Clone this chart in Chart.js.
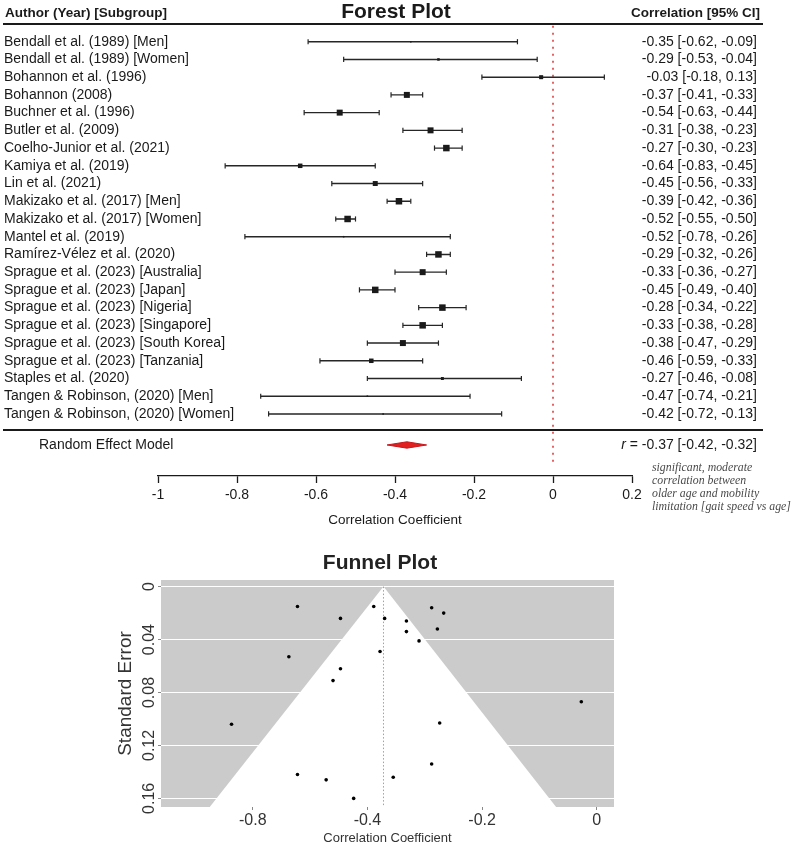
<!DOCTYPE html>
<html>
<head>
<meta charset="utf-8">
<script src="https://cdn.jsdelivr.net/npm/chart.js@4.4.1/dist/chart.umd.min.js"></script>
<style>
  body { margin: 0; background: #fff; }
  canvas { display: block; }
</style>
</head>
<body>
<canvas id="forest" width="794" height="535"></canvas>
<canvas id="funnel" width="794" height="311"></canvas>
<script>
// ---- forest plot data ----
const studies = [
  'Bendall et al. (1989) [Men]',
  'Bendall et al. (1989) [Women]',
  'Bohannon et al. (1996)',
  'Bohannon (2008)',
  'Buchner et al. (1996)',
  'Butler et al. (2009)',
  'Coelho-Junior et al. (2021)',
  'Kamiya et al. (2019)',
  'Lin et al. (2021)',
  'Makizako et al. (2017) [Men]',
  'Makizako et al. (2017) [Women]',
  'Mantel et al. (2019)',
  'Ramírez-Vélez et al. (2020)',
  'Sprague et al. (2023) [Australia]',
  'Sprague et al. (2023) [Japan]',
  'Sprague et al. (2023) [Nigeria]',
  'Sprague et al. (2023) [Singapore]',
  'Sprague et al. (2023) [South Korea]',
  'Sprague et al. (2023) [Tanzania]',
  'Staples et al. (2020)',
  'Tangen & Robinson, (2020) [Men]',
  'Tangen & Robinson, (2020) [Women]'
];
const estimates = [-0.36, -0.29, -0.03, -0.37, -0.54, -0.31, -0.27, -0.64, -0.45, -0.39, -0.52,
                   -0.53, -0.29, -0.33, -0.45, -0.28, -0.33, -0.38, -0.46, -0.28, -0.47, -0.43];
const lower = [-0.62, -0.53, -0.18, -0.41, -0.63, -0.38, -0.30, -0.83, -0.56, -0.42, -0.55,
               -0.78, -0.32, -0.40, -0.49, -0.34, -0.38, -0.47, -0.59, -0.47, -0.74, -0.72];
const upper = [-0.09, -0.04, 0.13, -0.33, -0.44, -0.23, -0.23, -0.45, -0.33, -0.36, -0.50,
               -0.26, -0.26, -0.27, -0.40, -0.22, -0.28, -0.29, -0.33, -0.08, -0.21, -0.13];
const ciLabels = [
  '-0.35 [-0.62, -0.09]', '-0.29 [-0.53, -0.04]', '-0.03 [-0.18, 0.13]', '-0.37 [-0.41, -0.33]',
  '-0.54 [-0.63, -0.44]', '-0.31 [-0.38, -0.23]', '-0.27 [-0.30, -0.23]', '-0.64 [-0.83, -0.45]',
  '-0.45 [-0.56, -0.33]', '-0.39 [-0.42, -0.36]', '-0.52 [-0.55, -0.50]', '-0.52 [-0.78, -0.26]',
  '-0.29 [-0.32, -0.26]', '-0.33 [-0.36, -0.27]', '-0.45 [-0.49, -0.40]', '-0.28 [-0.34, -0.22]',
  '-0.33 [-0.38, -0.28]', '-0.38 [-0.47, -0.29]', '-0.46 [-0.59, -0.33]', '-0.27 [-0.46, -0.08]',
  '-0.47 [-0.74, -0.21]', '-0.42 [-0.72, -0.13]'
];
// study weights (%)
const weights = [0.4, 1.1, 2.8, 6.2, 6.2, 6.2, 7.3, 3.5, 4.3, 7.3, 7.3,
                 0.4, 7.3, 6.2, 7.3, 7.3, 7.3, 6.2, 3.5, 1.5, 0.4, 0.4];
const forestTicks = [-1, -0.8, -0.6, -0.4, -0.2, 0, 0.2];
const pooled = { label: 'Random Effect Model', est: -0.37, lo: -0.42, hi: -0.32 };
const note = ['significant, moderate', 'correlation between', 'older age and mobility', 'limitation [gait speed vs age]'];

// ---- funnel plot data ----
const funnelR = [-0.522, -0.389, -0.288, -0.267, -0.447, -0.370, -0.332, -0.278, -0.332, -0.310, -0.378,
                 -0.537, -0.447, -0.460, -0.637, -0.274, -0.288, -0.522, -0.472, -0.355, -0.424, -0.027];
const funnelSE = [0.015, 0.015, 0.016, 0.020, 0.024, 0.024, 0.026, 0.032, 0.034, 0.041, 0.049,
                  0.053, 0.062, 0.071, 0.104, 0.103, 0.134, 0.142, 0.146, 0.144, 0.160, 0.087];
const funnelTicks = [-0.6, -0.4, -0.2, 0];
const funnelTickLabels = ['-0.8', '-0.4', '-0.2', '0'];
const seTicks = [0, 0.04, 0.08, 0.12, 0.16];
const seMax = 0.1665;
const funnelMean = -0.372;
const funnelEdgeR = [-0.675, funnelMean, -0.071];
const funnelEdgeSE = [seMax, 0, seMax];

const SANS = "'Liberation Sans', Arial, sans-serif";
const INK = '#1a1a1a';
const reRow = 22.75;

const whiskers = [];
studies.forEach((s, i) => {
  whiskers.push({ x: lower[i], y: i }, { x: upper[i], y: i }, { x: null, y: null });
});

const forestDecor = {
  id: 'forestDecor',
  afterDraw(chart) {
    const { ctx, scales } = chart;
    const y = scales.y;
    ctx.save();
    ctx.fillStyle = INK;
    ctx.textBaseline = 'middle';
    ctx.font = `bold 13.5px ${SANS}`;
    ctx.textAlign = 'left';
    ctx.fillText('Author (Year) [Subgroup]', 5, 13);
    ctx.textAlign = 'right';
    ctx.fillText('Correlation [95% CI]', 760, 13);
    ctx.font = `bold 21px ${SANS}`;
    ctx.textAlign = 'center';
    ctx.fillText('Forest Plot', 396, 12);

    ctx.strokeStyle = INK;
    ctx.lineWidth = 2;
    [-1, 21.9].forEach(v => {
      const py = Math.round(y.getPixelForValue(v));
      ctx.beginPath();
      ctx.moveTo(3, py);
      ctx.lineTo(763, py);
      ctx.stroke();
    });

    const ry = y.getPixelForValue(reRow);
    ctx.font = `14px ${SANS}`;
    ctx.textAlign = 'left';
    ctx.fillText(pooled.label, 39, ry);
    const rest = ` = ${pooled.est.toFixed(2)} [${pooled.lo.toFixed(2)}, ${pooled.hi.toFixed(2)}]`;
    ctx.textAlign = 'right';
    ctx.fillText(rest, 757, ry);
    const w = ctx.measureText(rest).width;
    ctx.font = `italic 14px ${SANS}`;
    ctx.fillText('r', 757 - w, ry);

    ctx.font = `italic 11.8px 'Liberation Serif', 'Times New Roman', serif`;
    ctx.fillStyle = '#4a4a4a';
    ctx.textAlign = 'left';
    note.forEach((t, i) => ctx.fillText(t, 652, 468 + i * 13));
    ctx.restore();
  }
};

new Chart(document.getElementById('forest'), {
  type: 'scatter',
  data: {
    datasets: [
      {
        data: estimates.map((e, i) => ({ x: e, y: i })),
        pointStyle: 'rect',
        pointRadius: weights.map(w => Math.max(1.1, 1.7 * Math.sqrt(w))),
        backgroundColor: INK,
        borderColor: INK,
        borderWidth: 0
      },
      {
        data: whiskers,
        showLine: true,
        borderColor: '#262626',
        borderWidth: 1.4,
        pointStyle: 'line',
        pointRotation: 90,
        pointRadius: 2.6,
        pointBorderColor: '#262626',
        pointBorderWidth: 1.2
      },
      {
        data: [{ x: pooled.lo, y: reRow }, { x: pooled.est, y: reRow - 0.18 }, { x: pooled.hi, y: reRow }],
        showLine: true, borderColor: '#c8161d', borderWidth: 1, pointRadius: 0
      },
      {
        data: [{ x: pooled.lo, y: reRow }, { x: pooled.est, y: reRow + 0.18 }, { x: pooled.hi, y: reRow }],
        showLine: true, borderColor: '#c8161d', borderWidth: 1, pointRadius: 0,
        fill: '-1', backgroundColor: '#e0201f'
      },
      {
        data: [{ x: 0, y: -0.9 }, { x: 0, y: 23.8 }],
        showLine: true, borderColor: '#e03030', borderWidth: 1.5, borderDash: [2, 5], pointRadius: 0
      }
    ]
  },
  options: {
    responsive: false,
    animation: false,
    plugins: { legend: { display: false }, tooltip: { enabled: false } },
    layout: { padding: { left: 4, right: 37, top: 24, bottom: 0 } },
    scales: {
      x: {
        type: 'linear', min: -1, max: 0.2,
        afterBuildTicks: a => { a.ticks = forestTicks.map(v => ({ value: v })); },
        ticks: { callback: v => String(v), font: { family: SANS, size: 14 }, color: INK, padding: 4, maxRotation: 0, autoSkip: false },
        grid: { drawOnChartArea: false, drawTicks: true, tickLength: 7, tickColor: INK, tickWidth: 1.3 },
        border: { display: true, color: INK, width: 1.3 },
        title: { display: true, text: 'Correlation Coefficient', font: { family: SANS, size: 13.5 }, color: INK, padding: { top: 0, bottom: 7 } },
        afterFit: a => { a.height = 59; }
      },
      y: {
        type: 'linear', position: 'left', reverse: true, min: -1, max: 24.5,
        afterBuildTicks: a => { a.ticks = studies.map((s, i) => ({ value: i })); },
        // mirrored so long names are not clipped to the axis box
        ticks: { callback: v => studies[v], mirror: true, crossAlign: 'near', padding: -154, font: { family: SANS, size: 14 }, color: INK, autoSkip: false },
        grid: { display: false },
        border: { display: false },
        afterFit: a => { a.width = 154; }
      },
      y2: {
        type: 'linear', position: 'right', reverse: true, min: -1, max: 24.5,
        afterBuildTicks: a => { a.ticks = studies.map((s, i) => ({ value: i })); },
        ticks: { callback: v => ciLabels[v], crossAlign: 'far', font: { family: SANS, size: 14 }, color: INK, autoSkip: false, padding: 0 },
        grid: { display: false },
        border: { display: false },
        afterFit: a => { a.width = 125; }
      }
    }
  },
  plugins: [forestDecor]
});

const funnelDecor = {
  id: 'funnelDecor',
  beforeDraw(chart) {
    const { ctx, chartArea: ca } = chart;
    ctx.save();
    ctx.fillStyle = '#cbcbcb';
    ctx.fillRect(ca.left, ca.top, ca.right - ca.left, ca.bottom - ca.top);
    ctx.restore();
  },
  afterDraw(chart) {
    const { ctx } = chart;
    ctx.save();
    ctx.fillStyle = '#222';
    ctx.font = `bold 21px ${SANS}`;
    ctx.textAlign = 'center';
    ctx.textBaseline = 'middle';
    ctx.fillText('Funnel Plot', 380, 28);
    ctx.restore();
  }
};

new Chart(document.getElementById('funnel'), {
  type: 'scatter',
  data: {
    datasets: [
      {
        data: funnelR.map((r, i) => ({ x: r, y: funnelSE[i] })),
        pointRadius: 1.8, backgroundColor: '#000', borderWidth: 0
      },
      {
        data: [{ x: funnelMean, y: 0 }, { x: funnelMean, y: seMax }],
        showLine: true, borderColor: '#a0a0a0', borderWidth: 1, borderDash: [1.5, 2], pointRadius: 0
      },
      {
        data: funnelEdgeR.map((r, i) => ({ x: r, y: funnelEdgeSE[i] })),
        showLine: true, borderWidth: 0, borderColor: '#fff', pointRadius: 0,
        fill: { value: seMax }, backgroundColor: '#fff'
      }
    ]
  },
  options: {
    responsive: false,
    animation: false,
    plugins: { legend: { display: false }, tooltip: { enabled: false } },
    layout: { padding: { left: 110, right: 180, top: 45, bottom: 0 } },
    scales: {
      x: {
        type: 'linear', min: -0.76, max: 0.03,
        afterBuildTicks: a => { a.ticks = funnelTicks.map(v => ({ value: v })); },
        ticks: { callback: (v, i) => funnelTickLabels[i], font: { family: SANS, size: 16 }, color: '#333', padding: 1, maxRotation: 0, autoSkip: false },
        grid: { drawOnChartArea: false, tickLength: 3, tickColor: '#888' },
        border: { display: false },
        title: { display: true, text: 'Correlation Coefficient', font: { family: SANS, size: 13 }, color: '#333', padding: 0 },
        afterFit: a => { a.height = 39; }
      },
      y: {
        type: 'linear', reverse: true, min: -0.005, max: seMax,
        afterBuildTicks: a => { a.ticks = seTicks.map(v => ({ value: v })); },
        ticks: { callback: v => String(v), minRotation: 90, maxRotation: 90, crossAlign: 'center', padding: -7, font: { family: SANS, size: 16 }, color: '#333', autoSkip: false },
        grid: { color: '#fff', lineWidth: 1, tickLength: 3, tickColor: '#888' },
        border: { display: false },
        title: { display: true, text: 'Standard Error', font: { family: SANS, size: 19 }, color: '#333', padding: { top: 4, bottom: 0 } },
        afterFit: a => { a.width = 51; }
      }
    }
  },
  plugins: [funnelDecor]
});
</script>
</body>
</html>
